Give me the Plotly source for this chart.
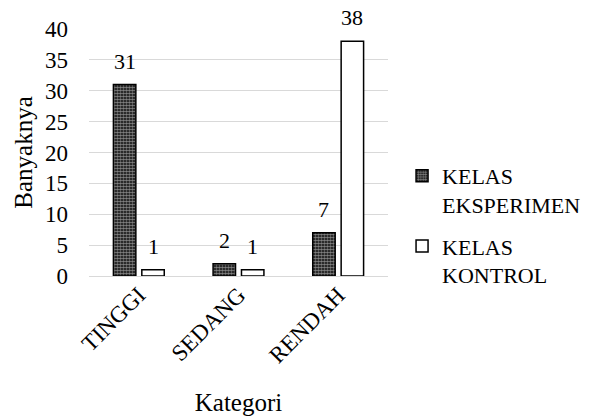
import plotly.graph_objects as go

categories = ["TINGGI", "SEDANG", "RENDAH"]
eksperimen = [31, 2, 7]
kontrol = [1, 1, 38]
y_ticks = [0, 5, 10, 15, 20, 25, 30, 35, 40]

FONT = "Liberation Serif"
TICK_FS = 23
LABEL_FS = 22
TITLE_FS = 25
BARGAP = 0.43

fig = go.Figure()
fig.add_trace(go.Bar(
    x=categories, y=eksperimen, name="KELAS<br>EKSPERIMEN", legendgroup="eks",
    marker=dict(color="black", line=dict(color="black", width=1.5),
                pattern=dict(shape=".", fgcolor="white", bgcolor="black",
                             size=3, solidity=0.65)),
))
fig.add_trace(go.Bar(
    x=categories, y=kontrol, name="KELAS<br>KONTROL", legendgroup="kon",
    marker=dict(color="white", line=dict(color="black", width=1.5)),
))

# value labels above each bar, placed at the centre of each grouped bar
half = (1 - BARGAP) / 4
for series, off in ((eksperimen, -half), (kontrol, half)):
    for i, v in enumerate(series):
        fig.add_annotation(x=i + off, y=v, text=str(v), showarrow=False,
                           xref="x", yref="y", yanchor="bottom", yshift=9,
                           font=dict(family=FONT, size=LABEL_FS, color="black"))

fig.update_layout(
    width=591, height=418,
    margin=dict(l=89, r=203, t=29, b=142, autoexpand=False),
    paper_bgcolor="white", plot_bgcolor="white",
    font=dict(family=FONT, size=LABEL_FS, color="black"),
    barmode="group", bargap=BARGAP, bargroupgap=0.21,
    legend=dict(x=1.047, y=0.49, xanchor="left", yanchor="top",
                font=dict(family=FONT, size=LABEL_FS), tracegroupgap=10,
                itemwidth=30, valign="top"),
    xaxis=dict(title=dict(text="Kategori", font=dict(family=FONT, size=TITLE_FS), standoff=26),
               tickangle=-45, showline=False, ticks="",
               tickfont=dict(family=FONT, size=TICK_FS)),
    yaxis=dict(title=dict(text="Banyaknya", font=dict(family=FONT, size=TITLE_FS), standoff=5),
               range=[0, 40], tickvals=y_ticks, showgrid=True,
               gridcolor="#d9d9d9", gridwidth=1, zeroline=True,
               zerolinecolor="#d9d9d9", zerolinewidth=1, showline=False,
               ticks="", ticklabelstandoff=20,
               tickfont=dict(family=FONT, size=TICK_FS)),
)

fig.write_html("out.html")
